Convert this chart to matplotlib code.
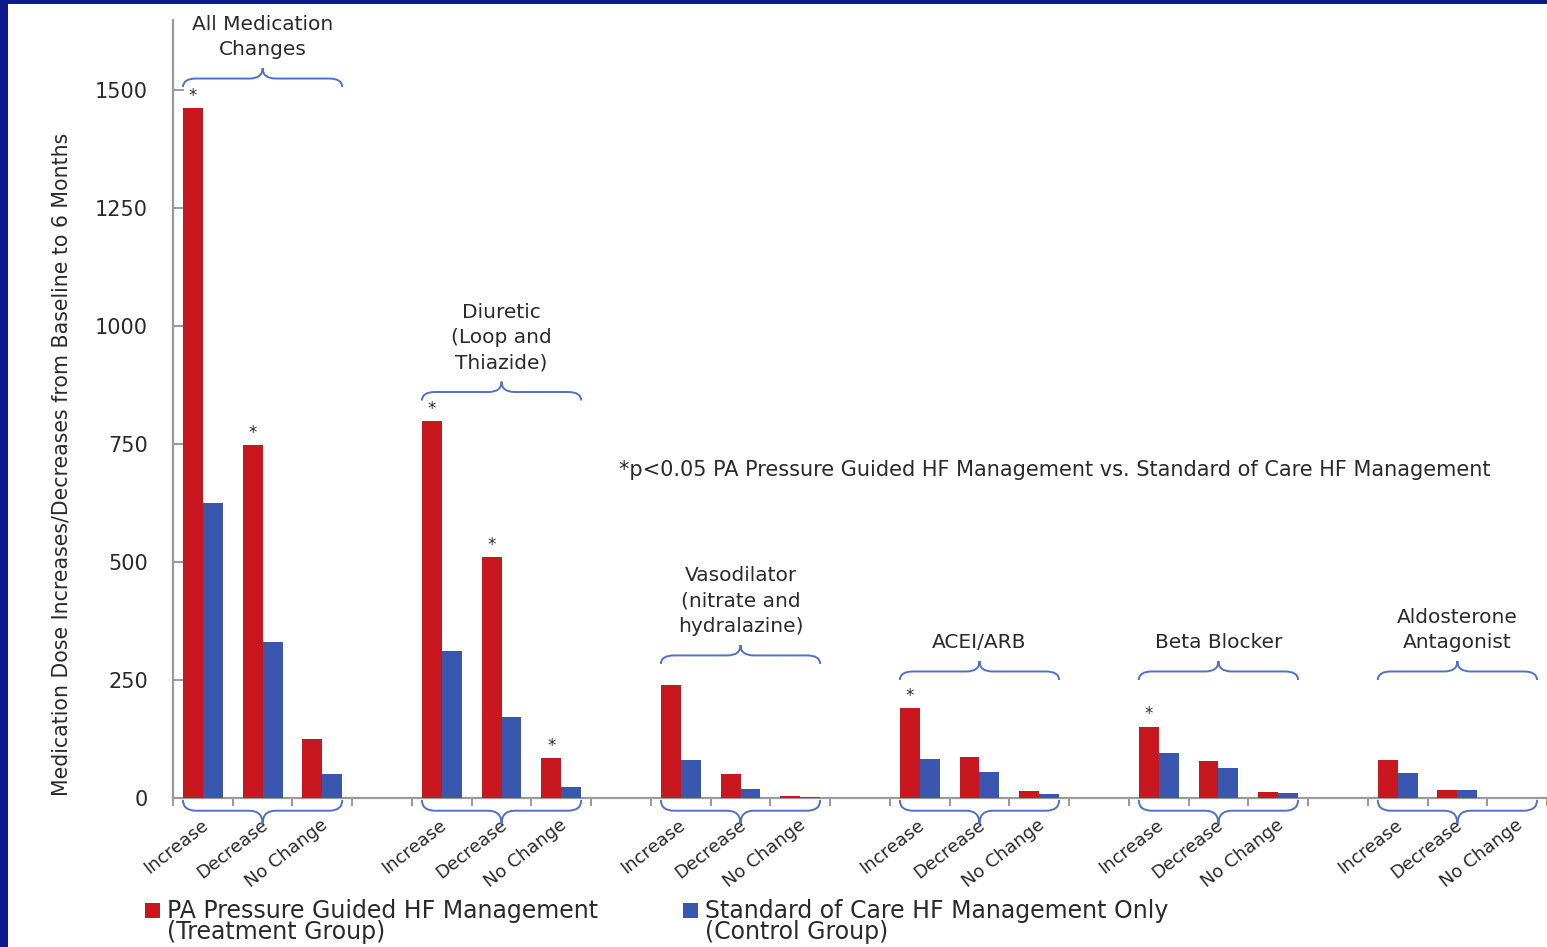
import matplotlib
matplotlib.use("Agg")
import matplotlib.pyplot as plt
from matplotlib.path import Path
from matplotlib.patches import PathPatch, Rectangle
from matplotlib.transforms import ScaledTranslation
import numpy as np

# ---- data -------------------------------------------------------------
groups = [
    "All Medication\nChanges",
    "Diuretic\n(Loop and\nThiazide)",
    "Vasodilator\n(nitrate and\nhydralazine)",
    "ACEI/ARB",
    "Beta Blocker",
    "Aldosterone\nAntagonist",
]
changes = ["Increase", "Decrease", "No Change"]
treatment = [
    [1462, 748, 126],
    [798, 510, 85],
    [240, 51, 4],
    [190, 87, 15],
    [151, 78, 12],
    [81, 17, 1],
]
control = [
    [624, 330, 50],
    [312, 172, 24],
    [81, 19, 2],
    [83, 56, 9],
    [95, 63, 10],
    [53, 16, 1],
]
significant = [
    [True, True, False],
    [True, True, True],
    [False, False, False],
    [True, False, False],
    [True, False, False],
    [False, False, False],
]
yticks = [0, 250, 500, 750, 1000, 1250, 1500]
legend_labels = [
    "PA Pressure Guided HF Management\n(Treatment Group)",
    "Standard of Care HF Management Only\n(Control Group)",
]
note = "*p<0.05 PA Pressure Guided HF Management vs. Standard of Care HF Management"
ylabel = "Medication Dose Increases/Decreases from Baseline to 6 Months"

# ---- style ------------------------------------------------------------
RED = "#C8171E"
BLUE = "#3A57B0"
BRACE = "#4F72C4"
NAVY = "#0B1A8C"
TXT = "#2A2A2A"
AXIS = "#9A9A9A"

W, H = 1547, 947
fig = plt.figure(figsize=(W / 100, H / 100), dpi=100, facecolor=NAVY)
fig.patches.append(Rectangle((8 / W, 0), 1 - 8 / W, 1 - 4 / H,
                             transform=fig.transFigure, facecolor="white",
                             edgecolor="none", zorder=-10))

ax = fig.add_axes([173 / W, (H - 798) / H, (W - 173) / W, (798 - 20) / H])
ax.set_facecolor("none")

n_groups = len(groups)


def slot(g, k):
    # three categories per group, one empty category between groups
    return g * 4 + k


bw = 1 / 3

xs, labels = [], []
for g in range(n_groups):
    for k in range(3):
        xs.append(slot(g, k))
        labels.append(changes[k])

x_arr = np.array(xs, dtype=float)
t_vals = np.array(treatment).ravel()
c_vals = np.array(control).ravel()
ax.bar(x_arr - bw / 2, t_vals, width=bw, color=RED, zorder=3)
ax.bar(x_arr + bw / 2, c_vals, width=bw, color=BLUE, zorder=3)

ax.set_ylim(0, 1648)
ax.set_xlim(-0.5, -0.5 + 1374 / 59.85)

# axes styling
for s in ("top", "right"):
    ax.spines[s].set_visible(False)
for s in ("left", "bottom"):
    ax.spines[s].set_color(AXIS)
    ax.spines[s].set_linewidth(1.6)

ax.set_yticks(yticks)
ax.tick_params(axis="y", direction="in", length=8, width=1.4, color=AXIS,
               labelsize=15, labelcolor=TXT, pad=18)

# category boundary ticks (minor) and centered labels (major)
n_slots = 23
ax.set_xticks(np.arange(n_slots + 1) - 0.5, minor=True)
ax.set_xticks(xs)
ax.set_xticklabels(labels, rotation=38, ha="right", va="center",
                   rotation_mode="anchor", fontsize=13, color=TXT)
ax.tick_params(axis="x", which="major", length=0, pad=18)
ax.tick_params(axis="x", which="minor", direction="out", length=6,
               width=1.4, color=AXIS)
shift = ScaledTranslation(3 / 100, 0, fig.dpi_scale_trans)
for lab in ax.get_xticklabels():
    lab.set_transform(lab.get_transform() + shift)


def brace(x0, x1, y0, h, r=0.22):
    xm = (x0 + x1) / 2
    ym = y0 + h * 0.45
    yt = y0 + h
    verts = [(x0, y0), (x0, ym), (x0 + r, ym), (xm - r, ym), (xm, ym),
             (xm, yt), (xm, ym), (xm + r, ym), (x1 - r, ym), (x1, ym),
             (x1, y0)]
    codes = [Path.MOVETO, Path.CURVE3, Path.CURVE3, Path.LINETO,
             Path.CURVE3, Path.CURVE3, Path.CURVE3, Path.CURVE3,
             Path.LINETO, Path.CURVE3, Path.CURVE3]
    ax.add_patch(PathPatch(Path(verts, codes), facecolor="none",
                           edgecolor=BRACE, lw=1.4, clip_on=False, zorder=4))
    return yt


for g in range(n_groups):
    x0 = slot(g, 0) - bw
    x1 = slot(g, 2) + bw
    top = max(max(treatment[g]), max(control[g]))
    yb = max(top + 44, 250)
    tip = brace(x0, x1, yb, 40)
    ax.text((x0 + x1) / 2, tip + 27, groups[g], ha="center", va="baseline",
            fontsize=14.5, color=TXT, linespacing=1.43, clip_on=False)
    brace(x0, x1, -4, -51)
    for k in range(3):
        if significant[g][k]:
            ax.text(slot(g, k) - bw / 2, treatment[g][k] + 26, "*",
                    ha="center", va="center", fontsize=12, color=TXT)

ax.text(6.97, 695, note, ha="left", va="center", fontsize=15, color=TXT)

fig.text(62 / W, 1 - 464 / H, ylabel, rotation=90, ha="center",
         va="center", fontsize=14.8, color=TXT)

# legend
for (px, color), label in zip([(145, RED), (683, BLUE)], legend_labels):
    fig.patches.append(Rectangle((px / W, 1 - 918 / H), 15 / W, 15 / H,
                                 transform=fig.transFigure, facecolor=color,
                                 edgecolor="none"))
    for i, line in enumerate(label.split("\n")):
        fig.text((px + 22) / W, 1 - (918 + 21 * i) / H, line, ha="left",
                 va="baseline", fontsize=17, color=TXT)

fig.savefig("out.png", dpi=100, facecolor=NAVY)
